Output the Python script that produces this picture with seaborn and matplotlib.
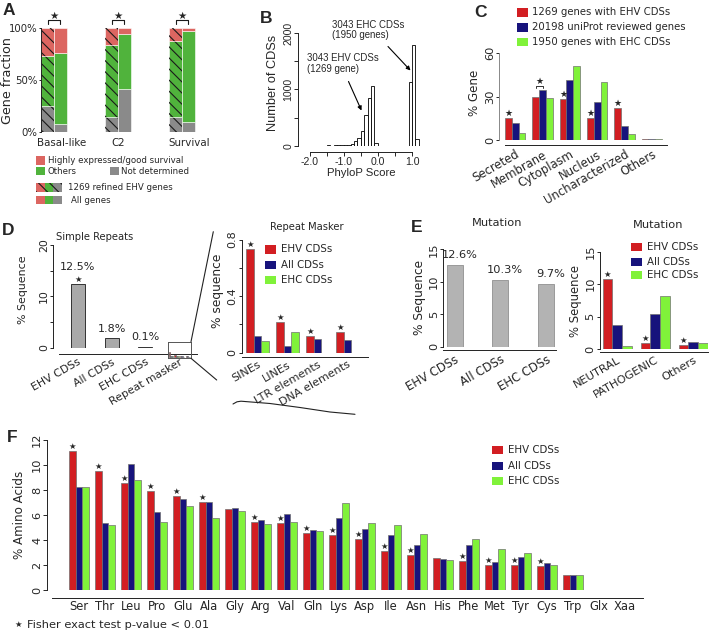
import numpy as np
import pandas as pd
import matplotlib
matplotlib.use("Agg")
import matplotlib.pyplot as plt
from matplotlib.patches import Rectangle
import seaborn as sns

# ---------------- data ----------------
# Panel A (percent of genes)
a_groups = ["Basal-like", "C2", "Survival"]
a_ehv_nd = [24.9, 13.9, 14.5]
a_ehv_oth = [48.6, 69.9, 73.2]
a_ehv_high = [26.5, 16.2, 12.3]
a_all_nd = [7.4, 41.0, 9.1]
a_all_oth = [68.4, 53.2, 88.3]
a_all_high = [24.2, 5.8, 2.6]

# Panel B (PhyloP histogram, bin left edges and counts, bin width 0.1)
b_left = [-2.2, -2.1, -2.0, -1.9, -1.8, -1.7, -1.6, -1.5, -1.4, -1.3, -1.2, -1.1,
          -1.0, -0.9, -0.8, -0.7, -0.6, -0.5, -0.4, -0.3, -0.2, -0.1,
          0.0, 0.1, 0.2, 0.3, 0.4, 0.5, 0.6, 0.7, 0.8, 0.9, 1.0, 1.1]
b_counts = [3, 2, 2, 1, 2, 3, 2, 4, 3, 5, 6, 8,
            12, 18, 35, 75, 140, 255, 545, 845, 1060, 45,
            0, 0, 0, 0, 0, 0, 0, 0, 0, 1130, 1800, 113]

# Panel C
c_cats = ["Secreted", "Membrane", "Cytoplasm", "Nucleus", "Uncharacterized", "Others"]
c_ehv = [15.2, 30.1, 28.3, 15.2, 22.3, 0.7]
c_uni = [11.7, 34.9, 41.8, 26.4, 9.9, 0.8]
c_ehc = [5.5, 29.0, 51.5, 40.0, 4.8, 0.8]
c_legend = ["1269 genes with EHV CDSs", "20198 uniProt reviewed genes", "1950 genes with EHC CDSs"]

# Panel D simple repeats
d_cats = ["EHV CDSs", "All CDSs", "EHC CDSs", "Repeat masker"]
d_vals = [12.5, 1.8, 0.1, np.nan]
d_labels = ["12.5%", "1.8%", "0.1%"]

# Panel D repeat masker
r_cats = ["SINEs", "LINEs", "LTR elements", "DNA elements"]
r_ehv = [0.73, 0.22, 0.118, 0.147]
r_all = [0.116, 0.05, 0.10, 0.088]
r_ehc = [0.085, 0.145, 0.0, 0.0]

# Panel E
e_cats = ["EHV CDSs", "All CDSs", "EHC CDSs"]
e_vals = [12.6, 10.3, 9.7]
e_labels = ["12.6%", "10.3%", "9.7%"]
m_cats = ["NEUTRAL", "PATHOGENIC", "Others"]
m_ehv = [10.8, 0.9, 0.65]
m_all = [3.7, 5.35, 1.15]
m_ehc = [0.5, 8.2, 0.9]

# Panel F
f_aa = ["Ser", "Thr", "Leu", "Pro", "Glu", "Ala", "Gly", "Arg", "Val", "Gln", "Lys",
        "Asp", "Ile", "Asn", "His", "Phe", "Met", "Tyr", "Cys", "Trp", "Glx", "Xaa"]
f_ehv = [11.14, 9.56, 8.6, 7.96, 7.55, 7.07, 6.48, 5.43, 5.33, 4.55, 4.42,
         4.12, 3.13, 2.81, 2.57, 2.35, 2.0, 2.0, 1.9, 1.17, 0.02, 0.02]
f_all = [8.25, 5.35, 10.07, 6.24, 7.26, 7.05, 6.53, 5.63, 6.05, 4.82, 5.73,
         4.9, 4.39, 3.64, 2.49, 3.59, 2.22, 2.62, 2.17, 1.17, 0.02, 0.02]
f_ehc = [8.25, 5.22, 8.84, 5.43, 6.72, 5.76, 6.35, 5.25, 5.43, 4.71, 6.99,
         5.38, 5.19, 4.52, 2.42, 4.12, 3.27, 3.0, 2.0, 1.17, 0.02, 0.02]
f_star = [1, 1, 1, 1, 1, 1, 0, 1, 1, 1, 1, 1, 1, 1, 0, 1, 1, 1, 1, 0, 0, 0]

series3 = ["EHV CDSs", "All CDSs", "EHC CDSs"]

# ---------------- style ----------------
sns.set_theme(context="paper", style="ticks")
plt.rcParams["font.family"] = ["DejaVu Sans"]
plt.rcParams["hatch.linewidth"] = 0.8
plt.rcParams["axes.linewidth"] = 0.7
plt.rcParams["xtick.major.width"] = 0.7
plt.rcParams["ytick.major.width"] = 0.7
plt.rcParams["axes.edgecolor"] = "#222222"

RED, NAVY, LIME = "#d21e22", "#17137c", "#80f23a"
PAL = [RED, NAVY, LIME]
EDGE = "#707070"
A_RED, A_GREEN, A_GREY = "#dc6661", "#50b33c", "#8a8a8a"
HELV = "Liberation Sans"

W, H = 711, 633
fig = plt.figure(figsize=(W / 100, H / 100), dpi=100)
fig.patch.set_facecolor("white")


def pax(x0, y0, x1, y1):
    ax = fig.add_axes([x0 / W, 1 - y1 / H, (x1 - x0) / W, (y1 - y0) / H])
    ax.patch.set_alpha(0)
    return ax


def rstyle(ax, xlim, ylim, left_out=0, bottom_out=0, ybounds=None, xbounds=None,
           left=True, bottom=True):
    ax.set_xlim(*xlim)
    ax.set_ylim(*ylim)
    for s in ("top", "right"):
        ax.spines[s].set_visible(False)
    ax.spines["left"].set_visible(left)
    ax.spines["bottom"].set_visible(bottom)
    ax.spines["left"].set_position(("outward", left_out * 0.72))
    ax.spines["bottom"].set_position(("outward", bottom_out * 0.72))
    if ybounds is not None:
        ax.spines["left"].set_bounds(*ybounds)
    if xbounds is not None:
        ax.spines["bottom"].set_bounds(*xbounds)
    ax.set_xlabel("")
    ax.set_ylabel("")


def grouped(ax, cats, vals_list, width):
    df = pd.DataFrame({
        "cat": [c for v in vals_list for c in cats],
        "series": [s for s, v in zip(series3, vals_list) for _ in cats],
        "val": [x for v in vals_list for x in v],
    })
    sns.barplot(data=df, x="cat", y="val", hue="series", order=cats, hue_order=series3,
                palette=PAL, width=width, saturation=1, errorbar=None, legend=False,
                edgecolor=EDGE, linewidth=0.5, ax=ax)


def star(ax, x, y, size=6.0, dy=0.0):
    ax.annotate("\u2605", (x, y), xytext=(0, dy), textcoords="offset points",
                ha="center", va="bottom", fontsize=size, annotation_clip=False,
                family="DejaVu Sans")


def yrot(ax, ticks, labels, size=8, length=2.5, pad=1.0, family=None):
    ax.set_yticks(ticks)
    ax.set_yticklabels(labels, rotation=90, va="center", fontsize=size,
                       family=family if family else "DejaVu Sans")
    ax.tick_params(axis="y", length=length, pad=pad)


# ================= Panel A =================
axA = pax(41, 28.3, 198, 131.7)
xa = np.arange(3)
bw = 0.2
for offs, segs, hatched in [(-0.1, [a_ehv_nd, a_ehv_oth, a_ehv_high], True),
                            (0.1, [a_all_nd, a_all_oth, a_all_high], False)]:
    bottom = np.zeros(3)
    for vals, col in zip(segs, [A_GREY, A_GREEN, A_RED]):
        v = np.array(vals) / 100.0
        axA.bar(xa + offs, v, bw, bottom=bottom, color=col, edgecolor="white", linewidth=0.4)
        if hatched:
            axA.bar(xa + offs, v, bw, bottom=bottom, fill=False, hatch="\\\\\\",
                    edgecolor="#1a1a1a", linewidth=0)
        bottom = bottom + v
rstyle(axA, (-0.203, 2.25), (0, 1), bottom=False)
axA.set_xticks([])
axA.set_yticks([0, 0.5, 1], ["0%", "50%", "100%"])
axA.tick_params(axis="y", length=1.5, pad=1, labelsize=7.3)
for i in range(3):
    axA.plot([i - 0.1, i - 0.1, i + 0.1, i + 0.1], [1.04, 1.08, 1.08, 1.04],
             color="k", lw=0.8, clip_on=False)
    star(axA, i, 1.075, size=7.5)

# ================= Panel B =================
axB = pax(302.8, 33.3, 420.5, 145.7)
b_centers = [l + 0.05 for l in b_left]
b_edges = b_left + [1.2]
sns.histplot(x=b_centers, weights=b_counts, bins=b_edges, ax=axB, color="white",
             edgecolor="black", linewidth=0.6, alpha=1)
rstyle(axB, (-2.2, 1.25), (0, 2000), left_out=4.5, bottom_out=6,
       ybounds=(0, 2000), xbounds=(-2, 1))
axB.set_xticks([-2, -1.5, -1, -0.5, 0, 0.5, 1])
axB.set_xticklabels(["-2.0", "", "-1.0", "", "0.0", "", "1.0"], fontsize=7.6, family=HELV)
axB.tick_params(axis="x", length=3, pad=1)
yrot(axB, [0, 500, 1000, 1500, 2000], ["0", "", "1000", "", "2000"], size=7.6,
     length=3, pad=0.5, family=HELV)

# ================= Panel C =================
axC = pax(505, 53.3, 667, 140.5)
grouped(axC, c_cats, [c_ehv, c_uni, c_ehc], 0.75)
rstyle(axC, (-0.375, 5.559), (0, 60), left_out=6, bottom_out=4.5, ybounds=(0, 60))
axC.spines["left"].set_color("#888888")
yrot(axC, [0, 30, 60], ["0", "30", "60"], size=8.2, length=2.5, pad=0.5)
axC.set_xticks(range(len(c_cats)))
axC.set_xticklabels(c_cats, rotation=30, ha="right", va="top", rotation_mode="anchor",
                    fontsize=8.4)
axC.tick_params(axis="x", length=0, pad=2)
for i in [0, 2, 3, 4]:
    star(axC, i - 0.25, c_ehv[i], size=6.5)
axC.plot([1 - 0.25, 1 - 0.25, 1.0, 1.0], [c_uni[1] + 1.0, c_uni[1] + 2.6, c_uni[1] + 2.6, c_uni[1] + 1.0],
         color="#333333", lw=0.7, clip_on=False)
star(axC, 1 - 0.125, c_uni[1] + 2.6, size=6.5)

# ================= Panel D: simple repeats =================
axD = pax(59.3, 245, 196.7, 347.7)
sns.barplot(x=d_cats, y=d_vals, order=d_cats, color="#a9a9a9", saturation=1, width=0.414,
            edgecolor="#333333", linewidth=0.7, errorbar=None, ax=axD)
rstyle(axD, (-0.547, 3.518), (0, 20), left_out=6.3, bottom_out=6.6, ybounds=(0, 20))
yrot(axD, [0, 5, 10, 15, 20], ["0", "", "10", "", "20"], size=7.8, length=2.5, pad=0.5)
axD.set_xticks(range(4))
axD.set_xticklabels(d_cats, rotation=30, ha="right", va="top", rotation_mode="anchor",
                    fontsize=7.8)
axD.tick_params(axis="x", length=0, pad=2)
for i, (v, lab) in enumerate(zip(d_vals[:3], d_labels)):
    off = 12.0 if i == 0 else 7.0
    axD.annotate(lab, (i, v), xytext=(0, off), textcoords="offset points",
                 ha="center", va="center", fontsize=8)
star(axD, 0, d_vals[0], size=6)

# inset (tiny copy of repeat-masker bars)
axIn = pax(167.7, 341.7, 191, 358.3)
grouped(axIn, r_cats, [r_ehv, r_all, r_ehc], 0.75)
axIn.set_xlim(-0.6, 3.6)
axIn.set_ylim(-0.3, 2.6)
axIn.set_xticks([])
axIn.set_yticks([])
axIn.set_xlabel("")
axIn.set_ylabel("")
for s in axIn.spines.values():
    s.set_color("#555555")
    s.set_linewidth(0.7)

# ================= Panel D: repeat masker =================
axR = pax(241.7, 239.5, 368.3, 352.7)
grouped(axR, r_cats, [r_ehv, r_all, r_ehc], 0.77)
rstyle(axR, (-0.527, 3.693), (0, 0.8), left_out=0, bottom_out=4, ybounds=(0, 0.8))
yrot(axR, [0, 0.2, 0.4, 0.6, 0.8], ["0", "", "0.4", "", "0.8"], size=8, length=2.5, pad=0.5)
axR.set_xticks(range(4))
axR.set_xticklabels(r_cats, rotation=30, ha="right", va="top", rotation_mode="anchor",
                    fontsize=8)
axR.tick_params(axis="x", length=0, pad=2)
for i in range(4):
    star(axR, i - 0.77 / 3, r_ehv[i], size=6)

# ================= Panel E left =================
axE = pax(443, 249.3, 555.7, 346.7)
sns.barplot(x=e_cats, y=e_vals, order=e_cats, color="#b3b3b3", saturation=1, width=0.35,
            edgecolor="#9a9a9a", linewidth=0.7, errorbar=None, ax=axE)
rstyle(axE, (-0.256, 2.21), (0, 15), left_out=0, bottom_out=3.3, ybounds=(0, 15))
yrot(axE, [0, 5, 10, 15], ["0", "5", "10", "15"], size=8.2, length=2.5, pad=0.5)
axE.set_xticks(range(3))
axE.set_xticklabels(e_cats, rotation=30, ha="right", va="top", rotation_mode="anchor",
                    fontsize=8.4)
axE.tick_params(axis="x", length=0, pad=2)
for i, (v, lab) in enumerate(zip(e_vals, e_labels)):
    axE.annotate(lab, (i, v), xytext=(3.5, 7), textcoords="offset points",
                 ha="center", va="center", fontsize=8.2, annotation_clip=False)

# ================= Panel E right =================
axM = pax(599.5, 251.7, 708, 349.3)
grouped(axM, m_cats, [m_ehv, m_all, m_ehc], 0.763)
rstyle(axM, (-0.466, 2.389), (0, 15), left_out=0, bottom_out=2.4, ybounds=(0, 15))
yrot(axM, [0, 5, 10, 15], ["0", "5", "10", "15"], size=8.2, length=2.5, pad=0.5)
axM.set_xticks(range(3))
axM.set_xticklabels(m_cats, rotation=30, ha="right", va="top", rotation_mode="anchor",
                    fontsize=8.2)
axM.tick_params(axis="x", length=0, pad=2)
for i in range(3):
    star(axM, i - 0.763 / 3, m_ehv[i], size=6)

# ================= Panel F =================
axF = pax(46.7, 440, 643, 590)
grouped(axF, f_aa, [f_ehv, f_all, f_ehc], 0.757)
rstyle(axF, (-1.237, 21.7), (0, 12), left_out=0, bottom_out=8.3,
       ybounds=(0, 12), xbounds=(-1.044, 21.7))
yrot(axF, [0, 2, 4, 6, 8, 10, 12], ["0", "2", "4", "6", "8", "10", "12"], size=8.2,
     length=2.8, pad=0.5)
axF.set_xticks(range(len(f_aa)))
axF.set_xticklabels(f_aa, fontsize=8.3)
axF.tick_params(axis="x", length=0, pad=1.5)
for i, s in enumerate(f_star):
    if s:
        star(axF, i - 0.757 / 3, f_ehv[i], size=6)

# ================= overlay: text, legends, decorations =================
ov = fig.add_axes([0, 0, 1, 1], zorder=20)
ov.set_xlim(0, W)
ov.set_ylim(H, 0)
ov.axis("off")


def T(x, y, s, size=8, **kw):
    kw.setdefault("ha", "left")
    kw.setdefault("va", "center")
    ov.text(x, y, s, fontsize=size, **kw)


def box(x0, y0, x1, y1, color, hatch=None):
    ov.add_patch(Rectangle((x0, y0), x1 - x0, y1 - y0, facecolor=color, edgecolor="none",
                           linewidth=0))
    if hatch:
        ov.add_patch(Rectangle((x0, y0), x1 - x0, y1 - y0, fill=False, hatch=hatch,
                               edgecolor="#1a1a1a", linewidth=0))


# panel letters
for lx, ly, lt in [(3, 15, "A"), (260, 23, "B"), (474, 17, "C"),
                   (2, 235, "D"), (411, 231.5, "E"), (7, 441.5, "F")]:
    ov.text(lx, ly, lt, fontsize=12.5, fontweight="bold", family=HELV, ha="left", va="baseline")

# Panel A texts / legend
T(7.5, 80, "Gene fraction", 9.2, rotation=90, ha="center")
for cx, lab in zip([62, 118.5, 189], a_groups):
    T(cx, 142.7, lab, 7.4, ha="center")
box(36, 155.5, 45, 164.5, A_RED)
T(47.7, 160.3, "Highly expressed/good survival", 6.2)
box(36, 166.7, 45, 175, A_GREEN)
T(47.7, 171, "Others", 6.2)
box(110, 166.7, 119, 175, A_GREY)
T(121, 171, "Not determined", 6.2)
box(36, 182.7, 44.6, 191.7, A_RED, "\\\\\\")
box(44.6, 182.7, 53.2, 191.7, A_GREEN, "\\\\\\")
box(53.2, 182.7, 61.7, 191.7, A_GREY, "\\\\\\")
T(68.3, 187.3, "1269 refined EHV genes", 6.2)
box(36, 196, 44.6, 204.3, A_RED)
box(44.6, 196, 53.2, 204.3, A_GREEN)
box(53.2, 196, 61.7, 204.3, A_GREY)
T(71, 200.5, "All genes", 6.2)

# Panel B texts
T(272.5, 82.5, "Number of CDSs", 9.2, rotation=90, ha="center", family=HELV)
T(361.7, 173.3, "PhyloP Score", 8.2, ha="center", family=HELV)
T(331.7, 25, "3043 EHC CDSs", 6.9, family=HELV)
T(331.7, 35.5, "(1950 genes)", 6.9, family=HELV)
T(306.7, 58.3, "3043 EHV CDSs", 6.9, family=HELV)
T(306.7, 69.5, "(1269 gene)", 6.9, family=HELV)
ov.annotate("", xy=(410.5, 70.5), xytext=(388, 46.5),
            arrowprops=dict(arrowstyle="-|>", color="black", lw=0.8, mutation_scale=6,
                            shrinkA=0, shrinkB=0))
ov.annotate("", xy=(361.5, 110.5), xytext=(348.5, 81.5),
            arrowprops=dict(arrowstyle="-|>", color="black", lw=0.8, mutation_scale=6,
                            shrinkA=0, shrinkB=0))

# Panel C texts / legend
T(475, 92.5, "% Gene", 8.6, rotation=90, ha="center")
for k, (yy, lab) in enumerate(zip([12.3, 27.3, 41.7], c_legend)):
    box(516.7, yy - 4.2, 528.3, yy + 4.2, PAL[k])
    T(531.7, yy, lab, 7.3)

# Panel D texts
T(95, 236.7, "Simple Repeats", 7.2, ha="center")
T(23, 290, "% Sequence", 7.9, rotation=90, ha="center")
T(306.7, 227.3, "Repeat Masker", 7.2, ha="center")
T(218, 291, "% sequence", 8.8, rotation=90, ha="center")
for k, (yy, lab) in enumerate(zip([249.3, 265, 280], series3)):
    box(265, yy - 4.2, 275.7, yy + 4.2, PAL[k])
    T(280.7, yy, lab, 7.4)
ov.plot([191, 213.3], [341.7, 231.7], color="#222222", lw=0.8)
ov.plot([191, 216.7], [358.3, 380], color="#222222", lw=0.8)
ov.plot([233, 237, 241, 270, 300, 330, 355], [404, 401.8, 401.2, 403.5, 407.5, 412, 414.3],
        color="#222222", lw=0.8)

# Panel E texts
T(496.7, 222.7, "Mutation", 8.2, ha="center")
T(420, 297.5, "% Sequence", 8.7, rotation=90, ha="center")
T(658.3, 225, "Mutation", 8.2, ha="center")
T(575, 301, "% Sequence", 8.4, rotation=90, ha="center")
for k, (yy, lab) in enumerate(zip([247.3, 261.7, 275.3], series3)):
    box(630.7, yy - 4, 641.7, yy + 4, PAL[k])
    T(646.7, yy, lab, 7.4)

# Panel F texts
T(20, 515, "% Amino Acids", 8.6, rotation=90, ha="center")
for k, (yy, lab) in enumerate(zip([450, 465.7, 481], series3)):
    box(491.7, yy - 3.8, 502.7, yy + 3.8, PAL[k])
    T(508, yy, lab, 7.4)
T(18.3, 624.5, "\u2605", 6, ha="center")
T(26.7, 625, "Fisher exact test p-value < 0.01", 8.2)

fig.savefig("out.png", dpi=100, facecolor="white")
